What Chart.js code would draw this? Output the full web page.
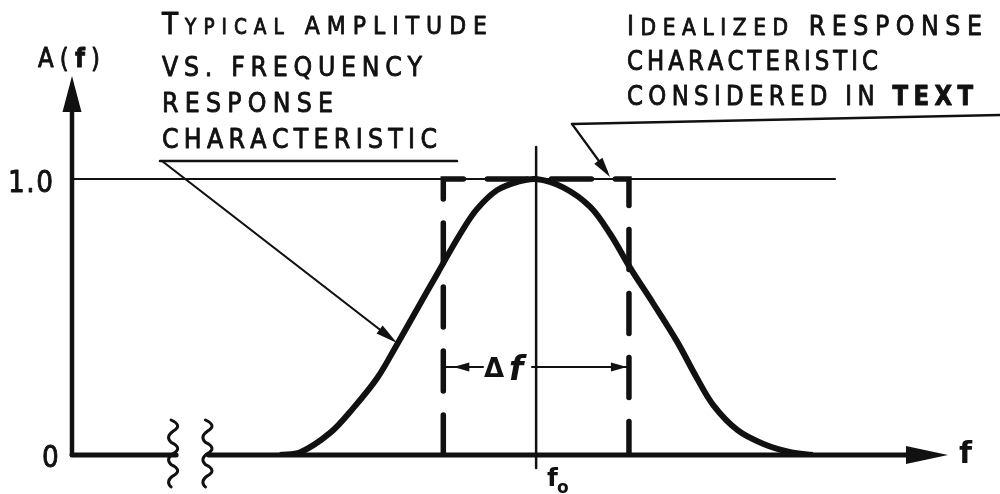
<!DOCTYPE html>
<html>
<head>
<meta charset="utf-8">
<script src="https://cdn.jsdelivr.net/npm/chart.js@4.4.1/dist/chart.umd.min.js"></script>
<style>
  html, body { margin: 0; padding: 0; background: #fff; }
  #wrap { width: 1000px; height: 494px; }
</style>
</head>
<body>
<div id="wrap"><canvas id="resp-chart"></canvas></div>
<script>
// frequency in arbitrary units, f0 = 50
const freq = [22.4, 24.6, 27.8, 30.3, 32.9, 35.0, 37.2, 39.4, 41.8, 43.6, 45.8, 48.0, 50.0,
              52.9, 55.8, 58.0, 60.1, 62.6, 65.2, 67.3, 69.1, 71.7, 74.5, 77.4, 79.8];
const amplitude = [0, 0.01, 0.08, 0.17, 0.28, 0.40, 0.53, 0.66, 0.80, 0.89, 0.96, 0.99, 1.0,
                   0.97, 0.90, 0.80, 0.68, 0.55, 0.41, 0.28, 0.18, 0.09, 0.04, 0.01, 0];
// idealized (rectangular) response
const idealFreq = [40, 40, 60, 60];
const idealAmp = [0, 1, 1, 0];
const f0 = 50;
const refLevel = 1.0;
const refLineEnd = 82.2;
const breakMarks = [11.0, 14.7];
const yTickLabels = ['0', '1.0'];

const ink = '#111';
const FONT = '"DejaVu Sans", sans-serif';

function arrowHead(ctx, x1, y1, x2, y2, len, half) {
    const a = Math.atan2(y2 - y1, x2 - x1);
    ctx.beginPath();
    ctx.moveTo(x2, y2);
    ctx.lineTo(x2 - len * Math.cos(a) + half * Math.sin(a), y2 - len * Math.sin(a) - half * Math.cos(a));
    ctx.lineTo(x2 - len * Math.cos(a) - half * Math.sin(a), y2 - len * Math.sin(a) + half * Math.cos(a));
    ctx.closePath();
    ctx.fill();
}

function line(ctx, x1, y1, x2, y2, w) {
    ctx.lineWidth = w;
    ctx.beginPath();
    ctx.moveTo(x1, y1);
    ctx.lineTo(x2, y2);
    ctx.stroke();
}

// draws text runs spread to a given width (lettering look, slightly condensed + heavier)
function spaced(ctx, runs, x, y, width) {
    const sx = 0.88;
    const chars = [];
    runs.forEach(r => {
        ctx.font = r[1];
        for (const c of r[0]) chars.push({ c: c, font: r[1], w: ctx.measureText(c).width * sx });
    });
    const natural = chars.reduce((s, o) => s + o.w, 0);
    const gap = chars.length > 1 ? (width - natural) / (chars.length - 1) : 0;
    let cx = x;
    ctx.lineWidth = 0.9;
    ctx.lineJoin = 'round';
    chars.forEach(o => {
        ctx.font = o.font;
        ctx.save();
        ctx.translate(cx, y);
        ctx.scale(sx, 1);
        ctx.fillText(o.c, 0, 0);
        ctx.strokeText(o.c, 0, 0);
        ctx.restore();
        cx += o.w + gap;
    });
}

// wavy axis-break mark
function squiggle(ctx, x, top, bottom) {
    ctx.lineWidth = 3;
    ctx.beginPath();
    const n = 6;
    const step = (bottom - top) / n;
    ctx.moveTo(x - 3, top);
    for (let i = 0; i < n; i++) {
        const side = i % 2 === 0 ? 9 : -9;
        ctx.quadraticCurveTo(x + side, top + step * (i + 0.5), x - 3 + (i % 2 === 0 ? 2 : 0), top + step * (i + 1));
    }
    ctx.stroke();
}

const drawing = {
    id: 'drawing',
    afterDatasetsDraw(chart) {
        const ctx = chart.ctx;
        const xs = chart.scales.x, ys = chart.scales.y;
        const x0 = xs.getPixelForValue(0);
        const y0 = ys.getPixelForValue(0);
        const y1 = ys.getPixelForValue(refLevel);
        ctx.save();
        ctx.strokeStyle = ink;
        ctx.fillStyle = ink;
        ctx.lineCap = 'round';

        // reference level line at 1.0
        line(ctx, x0, y1, xs.getPixelForValue(refLineEnd), y1, 2);

        // f0 centre line
        const xf0 = xs.getPixelForValue(f0);
        line(ctx, xf0, 147, xf0, y0 + 13, 2.5);

        // y axis with arrow
        line(ctx, x0, y0, x0, 105, 4.5);
        arrowHead(ctx, x0, 200, x0, 76, 36, 9.5);

        // x axis with break and arrow
        const b1 = xs.getPixelForValue(breakMarks[0]);
        const b2 = xs.getPixelForValue(breakMarks[1]);
        line(ctx, x0, y0, b1 + 2, y0, 5);
        line(ctx, b2, y0, 912, y0, 5);
        arrowHead(ctx, 800, y0, 948, y0, 42, 9);
        squiggle(ctx, b1, 420, 487);
        squiggle(ctx, b2, 420, 487);

        // delta f dimension
        const xl = xs.getPixelForValue(idealFreq[0]);
        const xr = xs.getPixelForValue(idealFreq[2]);
        const yd = 367;
        line(ctx, xl, yd, 483, yd, 2);
        line(ctx, 532, yd, xr, yd, 2);
        arrowHead(ctx, 483, yd, xl + 10, yd, 16, 4.5);
        arrowHead(ctx, 532, yd, xr - 2, yd, 16, 4.5);
        ctx.textBaseline = 'alphabetic';
        ctx.font = 'bold 26px ' + FONT;
        ctx.fillText('\u0394', 484, 377);
        ctx.font = 'italic bold 33px ' + FONT;
        ctx.fillText('f', 509, 380);

        // leader: typical response
        line(ctx, 160, 161, 457, 161, 2.5);
        line(ctx, 162, 161, 392, 339, 2.2);
        arrowHead(ctx, 162, 161, 397, 343, 22, 5);

        // leader: idealized response
        line(ctx, 572, 124, 1000, 115, 2.5);
        line(ctx, 572, 124, 607, 172, 2.2);
        arrowHead(ctx, 572, 124, 610, 177, 20, 5);

        // axis labels
        spaced(ctx, [[yTickLabels[0], '30px ' + FONT]], 42, 467, 20);
        spaced(ctx, [[yTickLabels[1], '30px ' + FONT]], 8, 192, 45);
        spaced(ctx, [['A(', '26px ' + FONT], ['f', 'bold 26px ' + FONT], [')', '26px ' + FONT]], 38, 67, 62);
        ctx.font = 'bold 30px ' + FONT;
        ctx.fillText('f', 959, 463);
        ctx.font = 'bold 25px ' + FONT;
        ctx.fillText('f', 547, 486);
        ctx.font = 'bold 17px ' + FONT;
        ctx.fillText('o', 557, 493);

        // annotation texts
        const big = '27px ' + FONT, mid = '25px ' + FONT, small = '21px ' + FONT;
        spaced(ctx, [['T', '30px ' + FONT], ['YPICAL', small], [' AMPLITUDE', mid]], 162, 34, 325);
        spaced(ctx, [['VS. FREQUENCY', big]], 162, 76, 260);
        spaced(ctx, [['RESPONSE', big]], 162, 112, 171);
        spaced(ctx, [['CHARACTERISTIC', big]], 162, 148, 275);
        spaced(ctx, [['I', big], ['DEALIZED', '23px ' + FONT], [' RESPONSE', big]], 627, 35, 355);
        spaced(ctx, [['CHARACTERISTIC', '26px ' + FONT]], 627, 70, 251);
        spaced(ctx, [['CONSIDERED IN ', '26px ' + FONT], ['TEXT', 'bold 26px ' + FONT]], 627, 105, 346);
        ctx.restore();
    }
};

document.addEventListener('DOMContentLoaded', function() {
    const ctx = document.getElementById('resp-chart').getContext('2d');
    new Chart(ctx, {
        type: 'line',
        data: {
            datasets: [
                {
                    label: 'Typical amplitude vs. frequency response',
                    data: freq.map((f, i) => ({ x: f, y: amplitude[i] })),
                    borderColor: ink,
                    borderWidth: 6,
                    pointRadius: 0,
                    tension: 0.35,
                    fill: false
                },
                {
                    label: 'Idealized response',
                    data: idealFreq.map((f, i) => ({ x: f, y: idealAmp[i] })),
                    borderColor: ink,
                    borderWidth: 5.5,
                    borderDash: [40, 24],
                    borderCapStyle: 'round',
                    pointRadius: 0,
                    tension: 0,
                    fill: false
                }
            ]
        },
        options: {
            responsive: true,
            maintainAspectRatio: false,
            animation: false,
            layout: { padding: { left: 72, right: 48, top: 77, bottom: 39 } },
            scales: {
                x: { type: 'linear', min: 0, max: 94.8, display: false },
                y: { min: 0, max: 1.37, display: false }
            },
            plugins: {
                legend: { display: false },
                tooltip: { enabled: false }
            }
        },
        plugins: [drawing]
    });
});
</script>
</body>
</html>
